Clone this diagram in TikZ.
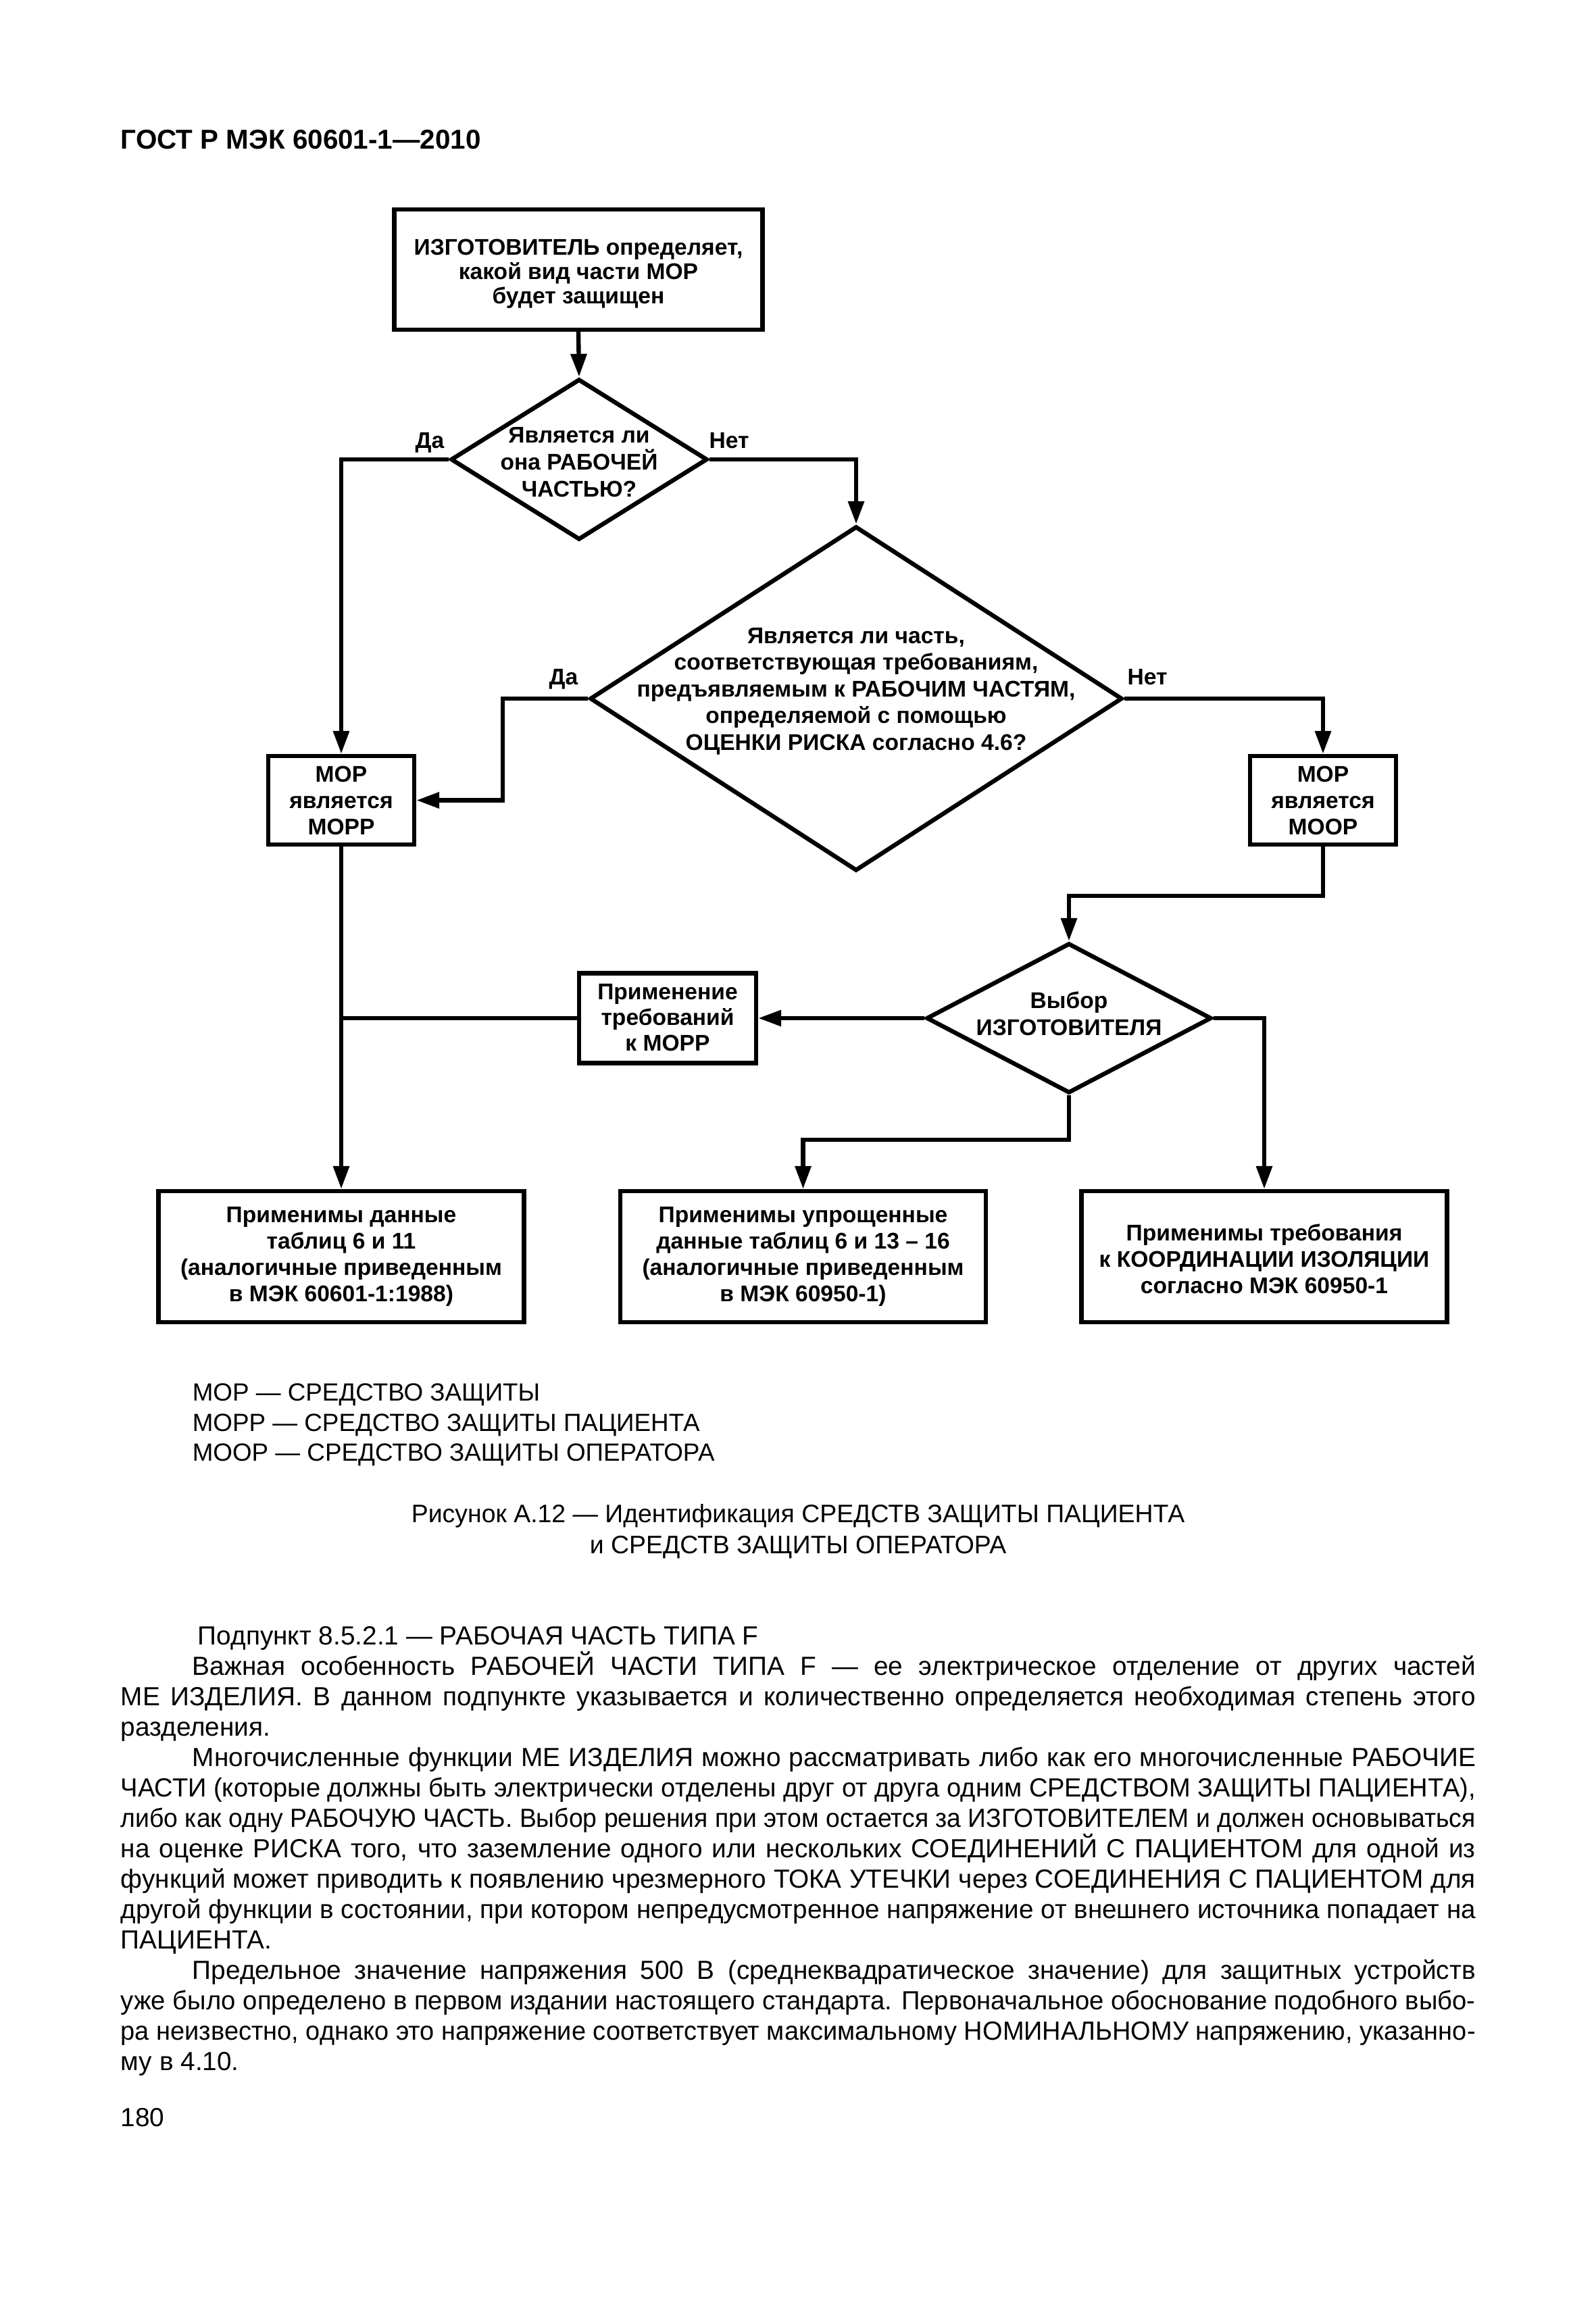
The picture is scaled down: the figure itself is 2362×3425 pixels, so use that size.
\documentclass[tikz,border=0pt]{standalone}
\usepackage{fontspec}
\setmainfont{Liberation Sans}
\usepackage{graphicx}
\usetikzlibrary{arrows.meta,shapes.geometric}
\newlength\fitlen
\newlength\fullw \setlength\fullw{501.25pt}
\newlength\indw \setlength\indw{474.75pt}
\newcommand\fitline[2]{\settowidth\fitlen{#2}\ifdim\fitlen>#1\relax\scalebox{\fpeval{#1/\fitlen}}[1]{#2}\else\makebox[#1][s]{#2}\fi}
\begin{document}
\begin{tikzpicture}[x=0.25pt,y=-0.25pt,
  shapebox/.style={draw, line width=1.6pt, rectangle, inner sep=0pt},
  decision/.style={draw, line width=1.6pt, diamond, inner sep=0pt},
  conn/.style={line width=1.6pt, -{Triangle[length=8.5pt,width=5.75pt]}},
  plainline/.style={line width=1.6pt},
  dtext/.style={align=center, inner sep=0pt, font=\fontsize{8.4}{9.75}\selectfont\bfseries},
  lbl/.style={anchor=base, inner sep=0pt, font=\fontsize{8.4}{9.75}\selectfont\bfseries},
  body/.style={anchor=base west, inner sep=0pt, font=\fontsize{9.7}{11.25}\selectfont},
  legend/.style={anchor=base west, inner sep=0pt, font=\fontsize{9.2}{11}\selectfont},
  capt/.style={anchor=base, inner sep=0pt, font=\fontsize{9.35}{11}\selectfont}]
\fill[white] (0,0) rectangle (2362,3425);
\useasboundingbox (0,0) rectangle (2362,3425);

\node[anchor=base west, inner sep=0pt, font=\fontsize{10.1}{12}\selectfont\bfseries] (hdr) at (178,221) {ГОСТ Р МЭК 60601-1—2010};

% shapes
\node[shapebox, minimum width=136.25pt, minimum height=44.5pt] (top) at (856,399) {};
\node[dtext, font=\fontsize{8.4}{9}\selectfont\bfseries] (toptext) at (856,405) {ИЗГОТОВИТЕЛЬ определяет,\\какой вид части МОР\\будет защищен};

\node[decision, minimum width=95pt, minimum height=59.5pt] (d1) at (857,680) {};
\node[dtext, font=\fontsize{8.4}{10}\selectfont\bfseries] (d1text) at (857,684) {Является ли\\она РАБОЧЕЙ\\ЧАСТЬЮ?};
\node[lbl] (da1) at (636,663) {Да};
\node[lbl] (net1) at (1079,663) {Нет};

\node[decision, minimum width=197pt, minimum height=127.5pt] (d2) at (1267,1034) {};
\node[dtext, font=\fontsize{8.4}{9.9}\selectfont\bfseries] (d2text) at (1267,1023) {Является ли часть,\\соответствующая требованиям,\\предъявляемым к РАБОЧИМ ЧАСТЯМ,\\определяемой с помощью\\ОЦЕНКИ РИСКА согласно 4.6?};
\node[lbl] (da2) at (834,1013) {Да};
\node[lbl] (net2) at (1698,1013) {Нет};

\node[shapebox, minimum width=54pt, minimum height=32.75pt] (mopp) at (505,1184.5) {};
\node[dtext] (mopptext) at (505,1185) {МОР\\является\\МОРР};
\node[shapebox, minimum width=54pt, minimum height=32.75pt] (moop) at (1958,1184.5) {};
\node[dtext] (mooptext) at (1958,1185) {МОР\\является\\МООР};

\node[decision, minimum width=105.5pt, minimum height=55.5pt] (d3) at (1582,1507) {};
\node[dtext, font=\fontsize{8.4}{10}\selectfont\bfseries] (d3text) at (1582,1500) {Выбор\\ИЗГОТОВИТЕЛЯ};

\node[shapebox, minimum width=65.5pt, minimum height=33.25pt] (prim) at (988,1507) {};
\node[dtext, font=\fontsize{8.4}{9.6}\selectfont\bfseries] (primtext) at (988,1506) {Применение\\требований\\к МОРР};

\node[shapebox, minimum width=135.25pt, minimum height=48.5pt] (b1) at (505,1860) {};
\node[shapebox, minimum width=135.25pt, minimum height=48.5pt] (b2) at (1188.5,1860) {};
\node[shapebox, minimum width=135.25pt, minimum height=48.5pt] (b3) at (1871,1860) {};
\node[dtext] (b1text) at (505,1860) {Применимы данные\\таблиц 6 и 11\\(аналогичные приведенным\\в МЭК 60601-1:1988)};
\node[dtext] (b2text) at (1188.5,1860) {Применимы упрощенные\\данные таблиц 6 и 13 – 16\\(аналогичные приведенным\\в МЭК 60950-1)};
\node[dtext] (b3text) at (1871,1863) {Применимы требования\\к КООРДИНАЦИИ ИЗОЛЯЦИИ\\согласно МЭК 60950-1};

% connectors
\draw[conn] (top.south) -- (d1.north);
\draw[conn] (d1.west) -| (mopp.north);
\draw[conn] (d1.east) -| (d2.north);
\draw[conn] (d2.west) -- ++(-126,0) |- (mopp.east);
\draw[conn] (d2.east) -| (moop.north);
\draw[conn] (moop.south) -- ++(0,73) -| (d3.north);
\draw[conn] (d3.west) -- (prim.east);
\draw[plainline] (prim.west) -- (prim.west -| mopp.south);
\draw[conn] (mopp.south) -- (b1.north);
\draw[conn] (d3.east) -| (b3.north);
\draw[conn] (d3.south) -- ++(0,66) -| (b2.north);

% legend and caption
\node[legend] (leg1) at (284,2073) {МОР — СРЕДСТВО ЗАЩИТЫ};
\node[legend] (leg2) at (284,2118) {МОРР — СРЕДСТВО ЗАЩИТЫ ПАЦИЕНТА};
\node[legend] (leg3) at (284,2162) {МООР — СРЕДСТВО ЗАЩИТЫ ОПЕРАТОРА};
\node[capt] (cap1) at (1181,2253) {Рисунок А.12 — Идентификация СРЕДСТВ ЗАЩИТЫ ПАЦИЕНТА};
\node[capt] (cap2) at (1181,2299) {и СРЕДСТВ ЗАЩИТЫ ОПЕРАТОРА};

% body text
\node[body] (p1) at (292,2434) {Подпункт 8.5.2.1 — РАБОЧАЯ ЧАСТЬ ТИПА F};
\node[body] (p2) at (284,2479) {\fitline{\indw}{Важная особенность РАБОЧЕЙ ЧАСТИ ТИПА F — ее электрическое отделение от других частей}};
\node[body] (p3) at (178,2524) {\fitline{\fullw}{МЕ ИЗДЕЛИЯ. В данном подпункте указывается и количественно определяется необходимая степень этого}};
\node[body] (p4) at (178,2569) {разделения.};
\node[body] (p5) at (284,2614) {\fitline{\indw}{Многочисленные функции МЕ ИЗДЕЛИЯ можно рассматривать либо как его многочисленные РАБОЧИЕ}};
\node[body] (p6) at (178,2659) {\fitline{\fullw}{ЧАСТИ (которые должны быть электрически отделены друг от друга одним СРЕДСТВОМ ЗАЩИТЫ ПАЦИЕНТА),}};
\node[body] (p7) at (178,2704) {\fitline{\fullw}{либо как одну РАБОЧУЮ ЧАСТЬ. Выбор решения при этом остается за ИЗГОТОВИТЕЛЕМ и должен основываться}};
\node[body] (p8) at (178,2749) {\fitline{\fullw}{на оценке РИСКА того, что заземление одного или нескольких СОЕДИНЕНИЙ С ПАЦИЕНТОМ для одной из}};
\node[body] (p9) at (178,2794) {\fitline{\fullw}{функций может приводить к появлению чрезмерного ТОКА УТЕЧКИ через СОЕДИНЕНИЯ С ПАЦИЕНТОМ для}};
\node[body] (p10) at (178,2839) {\fitline{\fullw}{другой функции в состоянии, при котором непредусмотренное напряжение от внешнего источника попадает на}};
\node[body] (p11) at (178,2884) {ПАЦИЕНТА.};
\node[body] (p12) at (284,2929) {\fitline{\indw}{Предельное значение напряжения 500 В (среднеквадратическое значение) для защитных устройств}};
\node[body] (p13) at (178,2974) {\fitline{\fullw}{уже было определено в первом издании настоящего стандарта. Первоначальное обоснование подобного выбо-}};
\node[body] (p14) at (178,3019) {\fitline{\fullw}{ра неизвестно, однако это напряжение соответствует максимальному НОМИНАЛЬНОМУ напряжению, указанно-}};
\node[body] (p15) at (178,3064) {му в 4.10.};
\node[body] (pnum) at (178,3147) {180};
\end{tikzpicture}
\end{document}
